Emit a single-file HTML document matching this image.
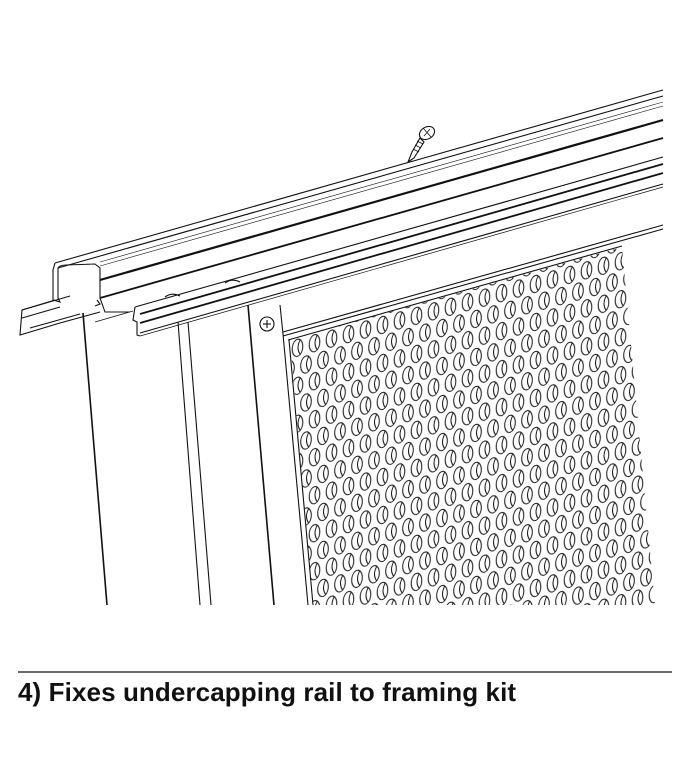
<!DOCTYPE html>
<html><head><meta charset="utf-8"><style>
html,body{margin:0;padding:0;background:#fff;}
body{width:690px;height:758px;position:relative;overflow:hidden;}
svg{position:absolute;left:0;top:0;}
.t{position:absolute;left:18px;top:677px;font-family:"Liberation Sans",sans-serif;font-weight:bold;font-size:26px;color:#111;letter-spacing:0.1px;}
</style></head><body>
<svg width="690" height="758" viewBox="0 0 690 758">
<defs>
<pattern id="p" x="0" y="0" width="17" height="38" patternUnits="userSpaceOnUse" patternTransform="skewY(-15)">
<g fill="none" stroke="#111" stroke-width="1">
<ellipse cx="8.5" cy="9.5" rx="5.3" ry="8.5"/>
<path d="M11 2.5 Q7 9.5 11 16.5"/>
<ellipse cx="0" cy="28.5" rx="5.3" ry="8.5"/>
<ellipse cx="17" cy="28.5" rx="5.3" ry="8.5"/>
<path d="M2.5 21.5 Q-1.5 28.5 2.5 35.5"/>
<path d="M19.5 21.5 Q15.5 28.5 19.5 35.5"/>
</g>
</pattern>
<clipPath id="c"><polygon points="290,340 622,247 655,605 313,605"/></clipPath>
</defs>
<g stroke="#111" fill="none" stroke-width="1.1">
<rect x="280" y="230" width="390" height="380" fill="url(#p)" clip-path="url(#c)" stroke="none"/>
<line x1="283" y1="336" x2="663" y2="229"/>
<line x1="283" y1="332" x2="663" y2="225"/>
<line x1="288" y1="340" x2="622" y2="246"/>
<line x1="283" y1="334" x2="308" y2="605"/>
<line x1="289" y1="340" x2="313" y2="605"/>
<line x1="83" y1="313" x2="107" y2="605" stroke-width="1.6"/>
<line x1="178" y1="322" x2="200" y2="605"/>
<line x1="188" y1="322" x2="211" y2="605"/>
<line x1="248" y1="305" x2="274" y2="605" stroke-width="1.6"/>
<line x1="280" y1="305" x2="283" y2="334"/>
<circle cx="267" cy="324" r="7"/>
<line x1="263" y1="324" x2="271" y2="324"/><line x1="267" y1="320" x2="267" y2="328"/>
<line x1="55" y1="263" x2="663" y2="90"/>
<line x1="58" y1="268" x2="663" y2="96"/>
<line x1="100" y1="262" x2="663" y2="102" stroke-width="0.6"/>
<line x1="100" y1="266" x2="663" y2="106" stroke-width="0.6"/>
<line x1="100" y1="280" x2="663" y2="120" stroke-width="2.2"/>
<line x1="100" y1="298" x2="663" y2="138" stroke-width="1.8"/>
<line x1="135" y1="307" x2="663" y2="157"/>
<line x1="140" y1="314" x2="663" y2="164" stroke-width="1.8"/>
<line x1="140" y1="323" x2="663" y2="173" stroke-width="1.8"/>
<line x1="140" y1="333" x2="663" y2="184"/>
<line x1="140" y1="336" x2="663" y2="187" stroke-width="0.7"/>
<path d="M55 263 L53 270 L53 300 L60 302 L58 298 L58 268 Q60 265 66 265 L95 264 L100 268 L100 298 L105 312 L130 312"/>
<path d="M55 300 L22 310 L20 335 L60 323 L100 312"/>
<path d="M22 310 L70 296 M22 318 L60 307 M30 328 L80 314"/>
<path d="M97 300 L100 304 L95 306"/>
<path d="M135 307 L133 320 L137 322 L137 335 L140 336"/>
<path d="M133 311 L95 322" stroke-width="0.8"/>
<path d="M165 297 Q172 292 180 296 M225 283 Q232 278 240 282"/>
<ellipse cx="427" cy="133" rx="8" ry="6" transform="rotate(-30 427 133)"/>
<path d="M423 128 L431 137 M424 136 L430 129" stroke-width="0.8"/>
<path d="M420 138 L412 152 L408 162 L414 158 L424 142 Z"/>
<path d="M417 141 L423 144 M415 145 L421 148 M413 149 L419 152" stroke-width="0.8"/>
<line x1="18" y1="672" x2="672" y2="672" stroke-width="1.3"/>
</g>
</svg>
<div class="t">4) Fixes undercapping rail to framing kit</div>
</body></html>
